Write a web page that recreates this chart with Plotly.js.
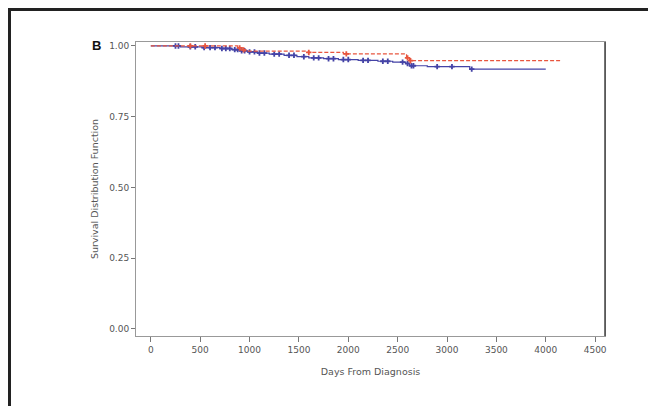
<!DOCTYPE html>
<html>
<head>
<meta charset="utf-8">
<script src="https://cdn.plot.ly/plotly-3.0.1.min.js"></script>
<style>
  html, body { margin: 0; padding: 0; background: #fff; }
  #wrap { position: relative; width: 648px; height: 406px; overflow: hidden; }
  #chart { width: 648px; height: 406px; }
  #frame { position: absolute; left: 8px; top: 8px; width: 700px; height: 500px;
           border-top: 3px solid #222; border-left: 3px solid #222; pointer-events: none; }
</style>
</head>
<body>
<div id="wrap">
  <div id="chart"></div>
  <div id="frame"></div>
</div>
<script>
// Group 1 (blue, solid): Kaplan-Meier step times and survival
const blueTimes = [0, 300, 520, 700, 820, 900, 980, 1080, 1200, 1350, 1480, 1600, 1750, 1900, 2100, 2300, 2450, 2580, 2620, 2800, 3230, 4000];
const blueSurv  = [1.0, 0.997, 0.994, 0.991, 0.987, 0.983, 0.979, 0.975, 0.971, 0.967, 0.962, 0.958, 0.955, 0.952, 0.949, 0.946, 0.943, 0.938, 0.930, 0.927, 0.918, 0.918];
const blueCensor = [250, 280, 400, 450, 540, 600, 650, 720, 760, 800, 850, 880, 920, 950, 1000, 1050, 1100, 1150, 1250, 1300, 1400, 1450, 1550, 1650, 1700, 1800, 1850, 1950, 2000, 2150, 2200, 2350, 2400, 2550, 2600, 2640, 2660, 2900, 3050, 3250];

// Group 2 (red, dashed)
const redTimes = [0, 880, 930, 960, 1580, 1950, 2590, 2620, 4150];
const redSurv  = [1.0, 0.993, 0.986, 0.982, 0.977, 0.972, 0.958, 0.948, 0.948];
const redCensor = [400, 550, 900, 940, 1600, 1980, 2600, 2630];

const xTicks = [0, 500, 1000, 1500, 2000, 2500, 3000, 3500, 4000, 4500];
const yTicks = [0, 0.25, 0.5, 0.75, 1.0];

function survAt(times, surv, t) {
  let s = surv[0];
  for (let i = 0; i < times.length; i++) { if (times[i] <= t) s = surv[i]; }
  return s;
}

const blueColor = '#4443a6';
const redColor = '#e8553e';

const traces = [
  { x: blueTimes, y: blueSurv, mode: 'lines', line: { shape: 'hv', color: blueColor, width: 1.2 }, hoverinfo: 'skip' },
  { x: blueCensor, y: blueCensor.map(t => survAt(blueTimes, blueSurv, t)), mode: 'markers',
    marker: { symbol: 'cross', size: 4.5, color: blueColor }, hoverinfo: 'skip' },
  { x: redTimes, y: redSurv, mode: 'lines', line: { shape: 'hv', color: redColor, width: 1.2, dash: '4px,2px' }, hoverinfo: 'skip' },
  { x: redCensor, y: redCensor.map(t => survAt(redTimes, redSurv, t)), mode: 'markers',
    marker: { symbol: 'cross', size: 4.5, color: redColor }, hoverinfo: 'skip' }
];

const tickFont = { family: 'DejaVu Sans', size: 9, color: '#555' };

const layout = {
  width: 648, height: 406,
  margin: { l: 136, r: 43, t: 42, b: 70 },
  paper_bgcolor: '#fff', plot_bgcolor: '#fff',
  showlegend: false,
  xaxis: {
    range: [-150, 4600], tickvals: xTicks, ticktext: xTicks.map(String),
    showgrid: false, zeroline: false, showline: true, mirror: true,
    linecolor: '#999', linewidth: 1, ticks: 'outside', ticklen: 5, tickcolor: '#777',
    tickfont: tickFont,
    title: { text: 'Days From Diagnosis', font: { family: 'DejaVu Sans', size: 9.5, color: '#555' }, standoff: 14 }
  },
  yaxis: {
    range: [-0.025, 1.014], tickvals: yTicks, ticktext: yTicks.map(v => v.toFixed(2)),
    showgrid: false, zeroline: false, showline: true, mirror: true,
    linecolor: '#999', linewidth: 1, ticks: 'outside', ticklen: 4, tickcolor: '#777',
    tickfont: tickFont,
    title: { text: 'Survival Distribution Function', font: { family: 'DejaVu Sans', size: 9.5, color: '#555' }, standoff: 8 }
  },
  shapes: [
    { type: 'line', xref: 'paper', yref: 'paper', x0: 1, x1: 1, y0: 0, y1: 1, line: { color: '#444', width: 1.5 } }
  ],
  annotations: [
    { text: '<b>B</b>', xref: 'paper', yref: 'y', x: -0.07, y: 1.0, xanchor: 'right', yanchor: 'middle',
      showarrow: false, font: { family: 'Liberation Sans', size: 13, color: '#111' } }
  ]
};

Plotly.newPlot('chart', traces, layout, { staticPlot: true, displayModeBar: false });
</script>
</body>
</html>
